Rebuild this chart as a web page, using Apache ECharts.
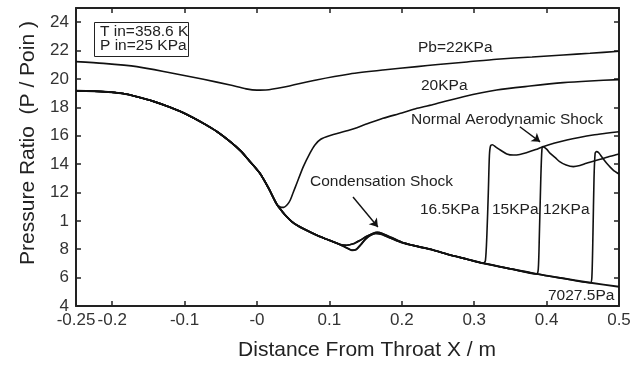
<!DOCTYPE html>
<html><head><meta charset="utf-8">
<script src="https://cdn.jsdelivr.net/npm/echarts@6/dist/echarts.min.js"></script>
<style>html,body{margin:0;padding:0;background:#fff}#c{width:644px;height:365px}</style>
</head><body><div id="c"></div><script>
// ---- tick values / labels ----
const xTickValues = [-0.25, -0.2, -0.1, 0, 0.1, 0.2, 0.3, 0.4, 0.5];
const xTickLabels = ['-0.25', '-0.2', '-0.1', '-0', '0.1', '0.2', '0.3', '0.4', '0.5'];
const xTickMarks = [-0.2, -0.1, 0, 0.1, 0.2, 0.3, 0.4];
const yTickValues = [4, 6, 8, 10, 12, 14, 16, 18, 20, 22, 24];
const yTickLabels = ['4', '6', '8', '1', '12', '14', '16', '18', '20', '22', '24'];
const yTickMarks = [6, 8, 10, 12, 14, 16, 18, 20, 22, 24];

// ---- curves: [x (m), P/Poin] ----
const pb22 = [[-0.25,21.22],[-0.212,21.1],[-0.166,20.87],[-0.12,20.44],[-0.074,19.98],[-0.037,19.57],[-0.015,19.3],[0.0,19.21],[0.012,19.22],[0.036,19.41],[0.082,19.93],[0.128,20.35],[0.174,20.63],[0.221,20.87],[0.25,21.02],[0.29,21.2],[0.331,21.39],[0.38,21.55],[0.423,21.69],[0.46,21.81],[0.5,21.95]];
const convergent = [[-0.25,19.17],[-0.21,19.1],[-0.185,18.97],[-0.166,18.75],[-0.143,18.42],[-0.12,18.0],[-0.097,17.5],[-0.074,16.87],[-0.055,16.28],[-0.037,15.58],[-0.023,14.95],[-0.01,14.2],[0.004,13.35],[0.016,12.3],[0.027,11.2]];
const pb20Tail = [[0.032,10.98],[0.037,10.95],[0.042,11.15],[0.046,11.47],[0.05,12.0],[0.055,12.65],[0.064,13.82],[0.073,14.76],[0.08,15.35],[0.088,15.75],[0.1,16.0],[0.128,16.4],[0.15,16.8],[0.174,17.23],[0.2,17.6],[0.221,17.93],[0.245,18.22],[0.285,18.75],[0.331,19.22],[0.377,19.5],[0.423,19.74],[0.46,19.86],[0.5,19.95]];
const supersonicStart = [[0.035,10.65],[0.041,10.3],[0.048,9.95],[0.055,9.7],[0.065,9.42],[0.082,9.0],[0.095,8.73],[0.105,8.53]];
const condensationDeep = [[0.117,8.27],[0.125,8.07],[0.131,7.93],[0.137,7.98],[0.143,8.3],[0.15,8.72],[0.157,9.0],[0.164,9.12],[0.172,9.05],[0.185,8.78],[0.2,8.47]];
const condensationShallow = [[0.115,8.33],[0.124,8.28],[0.133,8.38],[0.142,8.62],[0.151,8.9],[0.159,9.1],[0.166,9.2],[0.174,9.1],[0.186,8.82],[0.2,8.5]];
const diffuserTail = [[0.22,8.22],[0.243,7.95],[0.267,7.59],[0.29,7.3],[0.3126,7.01],[0.35,6.62],[0.386,6.26],[0.42,5.97],[0.4605,5.64],[0.5,5.36]];
const shock165 = [[0.3155,7.2],[0.3175,9.0],[0.3195,12.0],[0.321,14.6],[0.3225,15.28],[0.325,15.36],[0.33,15.2],[0.336,14.99],[0.345,14.72],[0.354,14.64],[0.363,14.68],[0.372,14.8],[0.385,15.02],[0.395,15.23],[0.41,15.47],[0.428,15.7],[0.445,15.88],[0.464,16.05],[0.482,16.17],[0.5,16.28]];
const shock15 = [[0.3885,6.6],[0.39,9.0],[0.392,13.0],[0.3935,15.0],[0.395,15.23],[0.4,15.05],[0.405,14.76],[0.412,14.45],[0.418,14.17],[0.427,13.93],[0.437,13.82],[0.446,13.9],[0.455,14.06],[0.474,14.34],[0.488,14.55],[0.5,14.71]];
const shock12 = [[0.4625,6.0],[0.464,9.0],[0.4655,13.0],[0.467,14.75],[0.469,14.88],[0.472,14.8],[0.477,14.45],[0.483,14.06],[0.492,13.58],[0.5,13.3]];

function withShock(cond, shock) {
  const sx = shock.length ? shock[0][0] : Infinity;
  return convergent.concat(supersonicStart, cond, diffuserTail.filter(p => p[0] < sx), shock);
}
const series20 = convergent.concat(pb20Tail);
const series165 = withShock(condensationShallow, shock165);
const series15 = withShock(condensationShallow, shock15);
const series12 = withShock(condensationDeep, shock12);
const series7027 = withShock(condensationDeep, []);

const FONT = '"Liberation Sans", Arial, Helvetica, sans-serif';
const INK = '#111';
function lab(v, vals, labs) {
  for (let i = 0; i < vals.length; i++) if (Math.abs(vals[i] - v) < 1e-6) return labs[i];
  return '';
}
function line(name, data, w) {
  return { name, type: 'line', data, showSymbol: false, smooth: 0.25, clip: true,
    lineStyle: { color: INK, width: w }, silent: true };
}
const axisLine = { onZero: false, lineStyle: { color: '#222', width: 2 } };
const chart = echarts.init(document.getElementById('c'));
const s7027 = line('7027.5Pa', series7027, 1.9);
s7027.markLine = {
  silent: true, symbol: ['none', 'arrow'], symbolSize: 8, label: { show: false },
  lineStyle: { color: INK, width: 1.4, type: 'solid' },
  data: [
    [{ coord: [0.363, 16.63] }, { coord: [0.391, 15.57] }],
    [{ coord: [0.1326, 11.68] }, { coord: [0.167, 9.57] }]
  ]
};
const txt = (t, x, y, extra) => Object.assign({ type: 'text', x, y, silent: true,
  style: { text: t, font: '15.5px ' + FONT, fill: '#222', textAlign: 'left', textVerticalAlign: 'middle' } }, extra || {});
chart.setOption({
  animation: false,
  grid: { left: 76, right: 25, top: 8, bottom: 59 },
  xAxis: [
    { type: 'value', min: -0.25, max: 0.5, axisLine,
      axisTick: { inside: true, length: 5, customValues: xTickMarks, lineStyle: { color: '#222', width: 1.5 } },
      axisLabel: { customValues: xTickValues, formatter: v => lab(v, xTickValues, xTickLabels), color: '#333', fontSize: 17, fontFamily: FONT, margin: 6 },
      splitLine: { show: false } },
    { type: 'value', position: 'top', min: -0.25, max: 0.5, axisLine,
      axisTick: { inside: true, length: 5, customValues: xTickMarks, lineStyle: { color: '#222', width: 1.5 } },
      axisLabel: { show: false }, splitLine: { show: false } }
  ],
  yAxis: [
    { type: 'value', min: 4, max: 25, axisLine,
      axisTick: { inside: true, length: 5, customValues: yTickMarks, lineStyle: { color: '#222', width: 1.5 } },
      axisLabel: { customValues: yTickValues, formatter: v => lab(v, yTickValues, yTickLabels), color: '#333', fontSize: 17, fontFamily: FONT, margin: 7 },
      splitLine: { show: false } },
    { type: 'value', position: 'right', min: 4, max: 25, axisLine,
      axisTick: { inside: true, length: 5, customValues: yTickMarks, lineStyle: { color: '#222', width: 1.5 } },
      axisLabel: { show: false }, splitLine: { show: false } }
  ],
  series: [
    line('Pb=22KPa', pb22, 1.6),
    line('20KPa', series20, 1.6),
    line('16.5KPa', series165, 1.6),
    line('15KPa', series15, 1.6),
    line('12KPa', series12, 1.6),
    s7027
  ],
  graphic: [
    { type: 'rect', shape: { x: 94.5, y: 22.5, width: 94, height: 34 }, style: { fill: '#fff', stroke: '#222', lineWidth: 1 }, silent: true },
    txt('T in=358.6 K', 100, 31.5),
    txt('P in=25 KPa', 100, 46),
    txt('Pb=22KPa', 418, 48),
    txt('20KPa', 421, 86),
    txt('Normal Aerodynamic Shock', 411, 120),
    txt('Condensation Shock', 310, 182),
    txt('16.5KPa', 420, 210),
    txt('15KPa', 492, 210),
    txt('12KPa', 543, 210),
    txt('7027.5Pa', 548, 296),
    { type: 'text', x: 367, y: 350, silent: true,
      style: { text: 'Distance From Throat X / m', font: '21px ' + FONT, fill: '#222', textAlign: 'center', textVerticalAlign: 'middle' } },
    { type: 'text', x: 28, y: 143, rotation: Math.PI / 2, silent: true,
      style: { text: 'Pressure Ratio  (P / Poin )', font: '21px ' + FONT, fill: '#222', textAlign: 'center', textVerticalAlign: 'middle' } }
  ]
});
</script></body></html>
